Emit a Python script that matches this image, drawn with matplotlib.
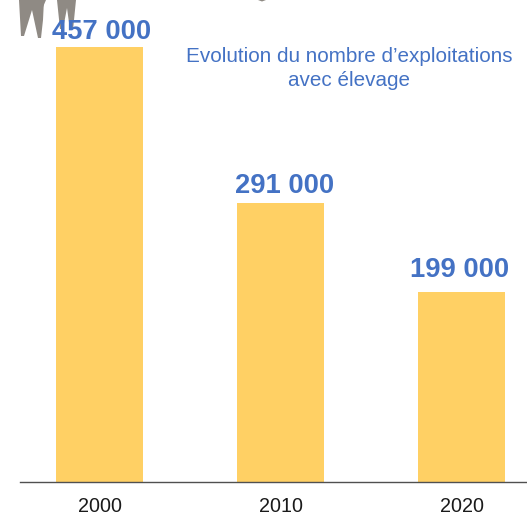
import matplotlib
matplotlib.use('Agg')
import matplotlib.pyplot as plt

plt.rcParams['font.family'] = ['Liberation Sans', 'DejaVu Sans']

#chart values (bar heights as measured on the picture)
years = ['2000', '2010', '2020']
exploitations = [457000, 293000, 199500]
value_labels = ['457 000', '291 000', '199 000']
title = 'Evolution du nombre d\u2019exploitations\navec élevage'

#label offsets from the top of each bar, in pixels
label_dx = [1.5, 4, -2]
label_dy = [2, 4, 9]

W, H = 527, 516
fig = plt.figure(figsize=(W / 100, H / 100), dpi=100)

#axes span from the baseline to the top of the image
ax = fig.add_axes([20 / W, (H - 482) / H, (W - 20) / W, 482 / H])
ax.set_xlim(-0.4404, 2.3608)
ax.set_ylim(0, 506400)

x = list(range(len(years)))
ax.bar(x, exploitations, width=0.483, color='#FFD064')

for i, label in enumerate(value_labels):
    ax.annotate(label, (x[i], exploitations[i]),
                xytext=(label_dx[i] * 0.72, label_dy[i] * 0.72), textcoords='offset points',
                ha='center', va='bottom', fontsize=19.7, fontweight='bold', color='#4472C4')

for side in ['top', 'left', 'right']:
    ax.spines[side].set_visible(False)
ax.spines['bottom'].set_color('#505050')
ax.spines['bottom'].set_linewidth(1.0)
ax.set_yticks([])
ax.set_xticks(x)
ax.set_xticklabels(years, fontsize=14.2, color='#1a1a1a')
ax.tick_params(axis='x', length=0, pad=11)

fig.text(349 / W, 1 - 68.5 / H, title, ha='center', va='center', fontsize=14.9,
         color='#4472C4', linespacing=1.33)

#cropped silhouette legs at the top of the image, behind the labels
deco = fig.add_axes([0, 0, 1, 1], zorder=-1)
deco.set_xlim(0, W)
deco.set_ylim(H, 0)
deco.axis('off')
deco.fill([19, 21, 24, 32, 38, 41, 43, 44], [0, 36, 36, 10, 38, 38, 20, 0], color='#8F8A84', lw=0)
deco.fill([40, 43, 46], [0, 7, 0], color='#8F8A84', lw=0)
deco.fill([57, 60, 63, 67, 70, 73, 76], [0, 29, 29, 8, 30, 30, 0], color='#8F8A84', lw=0)
deco.fill([258, 262, 266], [0, 1.5, 0], color='#8F8A84', lw=0)

ax.patch.set_alpha(0)
fig.savefig('out.png', dpi=100)
